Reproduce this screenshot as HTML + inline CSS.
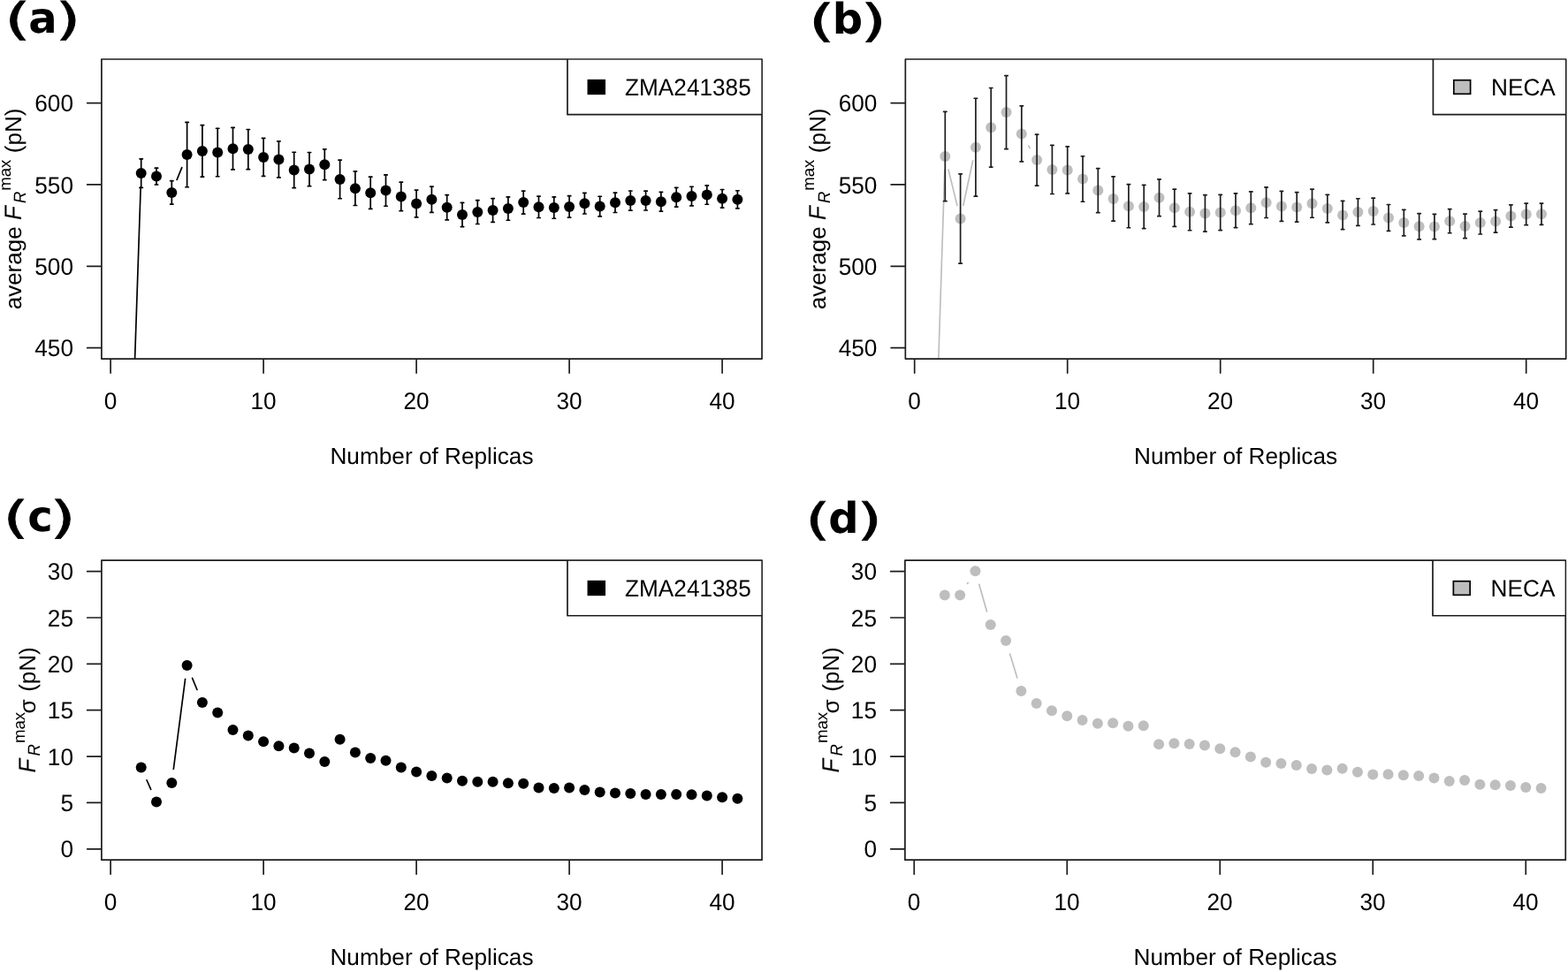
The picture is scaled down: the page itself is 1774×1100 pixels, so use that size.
<!DOCTYPE html>
<html lang="en">
<head>
<meta charset="utf-8">
<title>Convergence of average maximum rupture force with number of replicas</title>
<style>
html,body{margin:0;padding:0;background:#fff;}
body{width:1774px;height:1100px;overflow:hidden;}
svg{display:block;}
svg text{font-family:"Liberation Sans",sans-serif;fill:#000;font-kerning:none;text-rendering:geometricPrecision;}
svg text.pl{font-family:"DejaVu Sans",sans-serif;font-weight:bold;}
svg text.pr{font-family:"DejaVu Sans",sans-serif;font-weight:normal;stroke:#000;stroke-width:0.7px;vector-effect:non-scaling-stroke;stroke-linejoin:miter;}
</style>
</head>
<body>
<svg width="1774" height="1100" viewBox="0 0 1774 1100">
<rect width="1774" height="1100" fill="#fff"/>
<clipPath id="c00"><rect x="114.9" y="67" width="747.15" height="339.1"/></clipPath>
<g clip-path="url(#c00)">
<line x1="142.93" y1="692.41" x2="159.17" y2="211.69" stroke="#000" stroke-width="1.7" stroke-linecap="round"/>
<line x1="200.15" y1="203.44" x2="205.75" y2="189.56" stroke="#000" stroke-width="1.7" stroke-linecap="round"/>
<circle cx="159.7" cy="196.1" r="6.0" fill="#000"/>
<circle cx="177" cy="199.6" r="6.0" fill="#000"/>
<circle cx="194.3" cy="217.9" r="6.0" fill="#000"/>
<circle cx="211.6" cy="175.1" r="6.0" fill="#000"/>
<circle cx="228.9" cy="170.9" r="6.0" fill="#000"/>
<circle cx="246.2" cy="172.5" r="6.0" fill="#000"/>
<circle cx="263.5" cy="168.2" r="6.0" fill="#000"/>
<circle cx="280.8" cy="169.1" r="6.0" fill="#000"/>
<circle cx="298.1" cy="177.9" r="6.0" fill="#000"/>
<circle cx="315.4" cy="180.4" r="6.0" fill="#000"/>
<circle cx="332.7" cy="192.4" r="6.0" fill="#000"/>
<circle cx="350" cy="191.6" r="6.0" fill="#000"/>
<circle cx="367.3" cy="186.2" r="6.0" fill="#000"/>
<circle cx="384.6" cy="202.9" r="6.0" fill="#000"/>
<circle cx="401.9" cy="213.2" r="6.0" fill="#000"/>
<circle cx="419.2" cy="218.3" r="6.0" fill="#000"/>
<circle cx="436.5" cy="215.6" r="6.0" fill="#000"/>
<circle cx="453.8" cy="222.4" r="6.0" fill="#000"/>
<circle cx="471.1" cy="230.5" r="6.0" fill="#000"/>
<circle cx="488.4" cy="225.8" r="6.0" fill="#000"/>
<circle cx="505.7" cy="234.7" r="6.0" fill="#000"/>
<circle cx="523" cy="243" r="6.0" fill="#000"/>
<circle cx="540.3" cy="240.1" r="6.0" fill="#000"/>
<circle cx="557.6" cy="238" r="6.0" fill="#000"/>
<circle cx="574.9" cy="236.1" r="6.0" fill="#000"/>
<circle cx="592.2" cy="229.1" r="6.0" fill="#000"/>
<circle cx="609.5" cy="234.3" r="6.0" fill="#000"/>
<circle cx="626.8" cy="235.1" r="6.0" fill="#000"/>
<circle cx="644.1" cy="233.9" r="6.0" fill="#000"/>
<circle cx="661.4" cy="230.2" r="6.0" fill="#000"/>
<circle cx="678.7" cy="233.6" r="6.0" fill="#000"/>
<circle cx="696" cy="229.3" r="6.0" fill="#000"/>
<circle cx="713.3" cy="227.1" r="6.0" fill="#000"/>
<circle cx="730.6" cy="227.1" r="6.0" fill="#000"/>
<circle cx="747.9" cy="228.2" r="6.0" fill="#000"/>
<circle cx="765.2" cy="223.2" r="6.0" fill="#000"/>
<circle cx="782.5" cy="222.1" r="6.0" fill="#000"/>
<circle cx="799.8" cy="220.6" r="6.0" fill="#000"/>
<circle cx="817.1" cy="224.8" r="6.0" fill="#000"/>
<circle cx="834.4" cy="225.8" r="6.0" fill="#000"/>
<path d="M159.7 179.82V212.38M158 179.82H161.4M158 212.38H161.4" stroke="#000" stroke-width="1.7" fill="none" stroke-linecap="round"/>
<path d="M177 190.22V208.98M175.3 190.22H178.7M175.3 208.98H178.7" stroke="#000" stroke-width="1.7" fill="none" stroke-linecap="round"/>
<path d="M194.3 204.69V231.11M192.6 204.69H196M192.6 231.11H196" stroke="#000" stroke-width="1.7" fill="none" stroke-linecap="round"/>
<path d="M211.6 138.45V211.75M209.9 138.45H213.3M209.9 211.75H213.3" stroke="#000" stroke-width="1.7" fill="none" stroke-linecap="round"/>
<path d="M228.9 141.64V200.16M227.2 141.64H230.6M227.2 200.16H230.6" stroke="#000" stroke-width="1.7" fill="none" stroke-linecap="round"/>
<path d="M246.2 145.27V199.73M244.5 145.27H247.9M244.5 199.73H247.9" stroke="#000" stroke-width="1.7" fill="none" stroke-linecap="round"/>
<path d="M263.5 144.44V191.96M261.8 144.44H265.2M261.8 191.96H265.2" stroke="#000" stroke-width="1.7" fill="none" stroke-linecap="round"/>
<path d="M280.8 146.49V191.71M279.1 146.49H282.5M279.1 191.71H282.5" stroke="#000" stroke-width="1.7" fill="none" stroke-linecap="round"/>
<path d="M298.1 156.45V199.35M296.4 156.45H299.8M296.4 199.35H299.8" stroke="#000" stroke-width="1.7" fill="none" stroke-linecap="round"/>
<path d="M315.4 159.83V200.97M313.7 159.83H317.1M313.7 200.97H317.1" stroke="#000" stroke-width="1.7" fill="none" stroke-linecap="round"/>
<path d="M332.7 172.24V212.56M331 172.24H334.4M331 212.56H334.4" stroke="#000" stroke-width="1.7" fill="none" stroke-linecap="round"/>
<path d="M350 172.48V210.72M348.3 172.48H351.7M348.3 210.72H351.7" stroke="#000" stroke-width="1.7" fill="none" stroke-linecap="round"/>
<path d="M367.3 168.79V203.61M365.6 168.79H369M365.6 203.61H369" stroke="#000" stroke-width="1.7" fill="none" stroke-linecap="round"/>
<path d="M384.6 181.03V224.77M382.9 181.03H386.3M382.9 224.77H386.3" stroke="#000" stroke-width="1.7" fill="none" stroke-linecap="round"/>
<path d="M401.9 193.92V232.48M400.2 193.92H403.6M400.2 232.48H403.6" stroke="#000" stroke-width="1.7" fill="none" stroke-linecap="round"/>
<path d="M419.2 200.17V236.43M417.5 200.17H420.9M417.5 236.43H420.9" stroke="#000" stroke-width="1.7" fill="none" stroke-linecap="round"/>
<path d="M436.5 197.96V233.24M434.8 197.96H438.2M434.8 233.24H438.2" stroke="#000" stroke-width="1.7" fill="none" stroke-linecap="round"/>
<path d="M453.8 206.14V238.66M452.1 206.14H455.5M452.1 238.66H455.5" stroke="#000" stroke-width="1.7" fill="none" stroke-linecap="round"/>
<path d="M471.1 215.12V245.88M469.4 215.12H472.8M469.4 245.88H472.8" stroke="#000" stroke-width="1.7" fill="none" stroke-linecap="round"/>
<path d="M488.4 211.18V240.42M486.7 211.18H490.1M486.7 240.42H490.1" stroke="#000" stroke-width="1.7" fill="none" stroke-linecap="round"/>
<path d="M505.7 220.55V248.85M504 220.55H507.4M504 248.85H507.4" stroke="#000" stroke-width="1.7" fill="none" stroke-linecap="round"/>
<path d="M523 229.4V256.6M521.3 229.4H524.7M521.3 256.6H524.7" stroke="#000" stroke-width="1.7" fill="none" stroke-linecap="round"/>
<path d="M540.3 226.7V253.5M538.6 226.7H542M538.6 253.5H542" stroke="#000" stroke-width="1.7" fill="none" stroke-linecap="round"/>
<path d="M557.6 224.58V251.42M555.9 224.58H559.3M555.9 251.42H559.3" stroke="#000" stroke-width="1.7" fill="none" stroke-linecap="round"/>
<path d="M574.9 222.94V249.26M573.2 222.94H576.6M573.2 249.26H576.6" stroke="#000" stroke-width="1.7" fill="none" stroke-linecap="round"/>
<path d="M592.2 216.03V242.17M590.5 216.03H593.9M590.5 242.17H593.9" stroke="#000" stroke-width="1.7" fill="none" stroke-linecap="round"/>
<path d="M609.5 222.09V246.51M607.8 222.09H611.2M607.8 246.51H611.2" stroke="#000" stroke-width="1.7" fill="none" stroke-linecap="round"/>
<path d="M626.8 222.95V247.25M625.1 222.95H628.5M625.1 247.25H628.5" stroke="#000" stroke-width="1.7" fill="none" stroke-linecap="round"/>
<path d="M644.1 221.69V246.11M642.4 221.69H645.8M642.4 246.11H645.8" stroke="#000" stroke-width="1.7" fill="none" stroke-linecap="round"/>
<path d="M661.4 218.42V241.98M659.7 218.42H663.1M659.7 241.98H663.1" stroke="#000" stroke-width="1.7" fill="none" stroke-linecap="round"/>
<path d="M678.7 222.26V244.94M677 222.26H680.4M677 244.94H680.4" stroke="#000" stroke-width="1.7" fill="none" stroke-linecap="round"/>
<path d="M696 218.12V240.48M694.3 218.12H697.7M694.3 240.48H697.7" stroke="#000" stroke-width="1.7" fill="none" stroke-linecap="round"/>
<path d="M713.3 216.02V238.18M711.6 216.02H715M711.6 238.18H715" stroke="#000" stroke-width="1.7" fill="none" stroke-linecap="round"/>
<path d="M730.6 216.2V238M728.9 216.2H732.3M728.9 238H732.3" stroke="#000" stroke-width="1.7" fill="none" stroke-linecap="round"/>
<path d="M747.9 217.3V239.1M746.2 217.3H749.6M746.2 239.1H749.6" stroke="#000" stroke-width="1.7" fill="none" stroke-linecap="round"/>
<path d="M765.2 212.3V234.1M763.5 212.3H766.9M763.5 234.1H766.9" stroke="#000" stroke-width="1.7" fill="none" stroke-linecap="round"/>
<path d="M782.5 211.24V232.96M780.8 211.24H784.2M780.8 232.96H784.2" stroke="#000" stroke-width="1.7" fill="none" stroke-linecap="round"/>
<path d="M799.8 209.96V231.24M798.1 209.96H801.5M798.1 231.24H801.5" stroke="#000" stroke-width="1.7" fill="none" stroke-linecap="round"/>
<path d="M817.1 214.48V235.12M815.4 214.48H818.8M815.4 235.12H818.8" stroke="#000" stroke-width="1.7" fill="none" stroke-linecap="round"/>
<path d="M834.4 215.75V235.85M832.7 215.75H836.1M832.7 235.85H836.1" stroke="#000" stroke-width="1.7" fill="none" stroke-linecap="round"/>
</g>
<rect x="114.9" y="67" width="747.15" height="339.1" fill="none" stroke="#1c1c1c" stroke-width="1.7" stroke-linejoin="round"/>
<line x1="125.1" y1="406.95" x2="125.1" y2="422.1" stroke="#1c1c1c" stroke-width="1.7" stroke-linecap="round"/>
<text transform="translate(124.95,462.9) scale(1.008,1.04)" font-size="26.0" text-anchor="middle">0</text>
<line x1="298.1" y1="406.95" x2="298.1" y2="422.1" stroke="#1c1c1c" stroke-width="1.7" stroke-linecap="round"/>
<text transform="translate(297.95,462.9) scale(1.008,1.04)" font-size="26.0" text-anchor="middle">10</text>
<line x1="471.1" y1="406.95" x2="471.1" y2="422.1" stroke="#1c1c1c" stroke-width="1.7" stroke-linecap="round"/>
<text transform="translate(470.95,462.9) scale(1.008,1.04)" font-size="26.0" text-anchor="middle">20</text>
<line x1="644.1" y1="406.95" x2="644.1" y2="422.1" stroke="#1c1c1c" stroke-width="1.7" stroke-linecap="round"/>
<text transform="translate(643.95,462.9) scale(1.008,1.04)" font-size="26.0" text-anchor="middle">30</text>
<line x1="817.1" y1="406.95" x2="817.1" y2="422.1" stroke="#1c1c1c" stroke-width="1.7" stroke-linecap="round"/>
<text transform="translate(816.95,462.9) scale(1.008,1.04)" font-size="26.0" text-anchor="middle">40</text>
<text transform="translate(488.47,525.3) scale(1.008,1.0)" font-size="26.0" text-anchor="middle">Number of Replicas</text>
<line x1="98.7" y1="393.65" x2="114.05" y2="393.65" stroke="#1c1c1c" stroke-width="1.7" stroke-linecap="round"/>
<text transform="translate(83,403.25) scale(1.008,1.04)" font-size="26.0" text-anchor="end">450</text>
<line x1="98.7" y1="301.3" x2="114.05" y2="301.3" stroke="#1c1c1c" stroke-width="1.7" stroke-linecap="round"/>
<text transform="translate(83,310.9) scale(1.008,1.04)" font-size="26.0" text-anchor="end">500</text>
<line x1="98.7" y1="208.95" x2="114.05" y2="208.95" stroke="#1c1c1c" stroke-width="1.7" stroke-linecap="round"/>
<text transform="translate(83,218.55) scale(1.008,1.04)" font-size="26.0" text-anchor="end">550</text>
<line x1="98.7" y1="116.6" x2="114.05" y2="116.6" stroke="#1c1c1c" stroke-width="1.7" stroke-linecap="round"/>
<text transform="translate(83,126.2) scale(1.008,1.04)" font-size="26.0" text-anchor="end">600</text>
<clipPath id="c10"><rect x="1024.35" y="67" width="747.35" height="339.1"/></clipPath>
<g clip-path="url(#c10)">
<line x1="1052.51" y1="692.41" x2="1068.79" y2="192.59" stroke="#bebebe" stroke-width="1.7" stroke-linecap="round"/>
<line x1="1073.02" y1="192.15" x2="1082.88" y2="232.35" stroke="#bebebe" stroke-width="1.7" stroke-linecap="round"/>
<line x1="1089.87" y1="232.25" x2="1100.63" y2="181.95" stroke="#bebebe" stroke-width="1.7" stroke-linecap="round"/>
<line x1="1163.65" y1="164.88" x2="1165.25" y2="167.62" stroke="#bebebe" stroke-width="1.7" stroke-linecap="round"/>
<circle cx="1069.3" cy="177" r="6.0" fill="#bebebe"/>
<circle cx="1086.6" cy="247.5" r="6.0" fill="#bebebe"/>
<circle cx="1103.9" cy="166.7" r="6.0" fill="#bebebe"/>
<circle cx="1121.2" cy="144.3" r="6.0" fill="#bebebe"/>
<circle cx="1138.5" cy="127.1" r="6.0" fill="#bebebe"/>
<circle cx="1155.8" cy="151.4" r="6.0" fill="#bebebe"/>
<circle cx="1173.1" cy="181.1" r="6.0" fill="#bebebe"/>
<circle cx="1190.4" cy="191.9" r="6.0" fill="#bebebe"/>
<circle cx="1207.7" cy="192.4" r="6.0" fill="#bebebe"/>
<circle cx="1225" cy="202.5" r="6.0" fill="#bebebe"/>
<circle cx="1242.3" cy="215.6" r="6.0" fill="#bebebe"/>
<circle cx="1259.6" cy="225" r="6.0" fill="#bebebe"/>
<circle cx="1276.9" cy="233.2" r="6.0" fill="#bebebe"/>
<circle cx="1294.2" cy="234" r="6.0" fill="#bebebe"/>
<circle cx="1311.5" cy="223.8" r="6.0" fill="#bebebe"/>
<circle cx="1328.8" cy="235.3" r="6.0" fill="#bebebe"/>
<circle cx="1346.1" cy="239.8" r="6.0" fill="#bebebe"/>
<circle cx="1363.4" cy="241.4" r="6.0" fill="#bebebe"/>
<circle cx="1380.7" cy="240.5" r="6.0" fill="#bebebe"/>
<circle cx="1398" cy="238.2" r="6.0" fill="#bebebe"/>
<circle cx="1415.3" cy="235.3" r="6.0" fill="#bebebe"/>
<circle cx="1432.6" cy="229.2" r="6.0" fill="#bebebe"/>
<circle cx="1449.9" cy="233.4" r="6.0" fill="#bebebe"/>
<circle cx="1467.2" cy="234.4" r="6.0" fill="#bebebe"/>
<circle cx="1484.5" cy="230.2" r="6.0" fill="#bebebe"/>
<circle cx="1501.8" cy="236.1" r="6.0" fill="#bebebe"/>
<circle cx="1519.1" cy="243.5" r="6.0" fill="#bebebe"/>
<circle cx="1536.4" cy="240.1" r="6.0" fill="#bebebe"/>
<circle cx="1553.7" cy="239.1" r="6.0" fill="#bebebe"/>
<circle cx="1571" cy="246.4" r="6.0" fill="#bebebe"/>
<circle cx="1588.3" cy="252.1" r="6.0" fill="#bebebe"/>
<circle cx="1605.6" cy="256.3" r="6.0" fill="#bebebe"/>
<circle cx="1622.9" cy="256.5" r="6.0" fill="#bebebe"/>
<circle cx="1640.2" cy="250.2" r="6.0" fill="#bebebe"/>
<circle cx="1657.5" cy="255.9" r="6.0" fill="#bebebe"/>
<circle cx="1674.8" cy="252.1" r="6.0" fill="#bebebe"/>
<circle cx="1692.1" cy="250.4" r="6.0" fill="#bebebe"/>
<circle cx="1709.4" cy="244.5" r="6.0" fill="#bebebe"/>
<circle cx="1726.7" cy="242.4" r="6.0" fill="#bebebe"/>
<circle cx="1744" cy="242.2" r="6.0" fill="#bebebe"/>
<path d="M1069.3 126.35V227.65M1067.6 126.35H1071M1067.6 227.65H1071" stroke="#1c1c1c" stroke-width="1.7" fill="none" stroke-linecap="round"/>
<path d="M1086.6 196.85V298.15M1084.9 196.85H1088.3M1084.9 298.15H1088.3" stroke="#1c1c1c" stroke-width="1.7" fill="none" stroke-linecap="round"/>
<path d="M1103.9 111.23V222.17M1102.2 111.23H1105.6M1102.2 222.17H1105.6" stroke="#1c1c1c" stroke-width="1.7" fill="none" stroke-linecap="round"/>
<path d="M1121.2 99.52V189.08M1119.5 99.52H1122.9M1119.5 189.08H1122.9" stroke="#1c1c1c" stroke-width="1.7" fill="none" stroke-linecap="round"/>
<path d="M1138.5 85.53V168.67M1136.8 85.53H1140.2M1136.8 168.67H1140.2" stroke="#1c1c1c" stroke-width="1.7" fill="none" stroke-linecap="round"/>
<path d="M1155.8 119.85V182.95M1154.1 119.85H1157.5M1154.1 182.95H1157.5" stroke="#1c1c1c" stroke-width="1.7" fill="none" stroke-linecap="round"/>
<path d="M1173.1 152.05V210.15M1171.4 152.05H1174.8M1171.4 210.15H1174.8" stroke="#1c1c1c" stroke-width="1.7" fill="none" stroke-linecap="round"/>
<path d="M1190.4 164.3V219.5M1188.7 164.3H1192.1M1188.7 219.5H1192.1" stroke="#1c1c1c" stroke-width="1.7" fill="none" stroke-linecap="round"/>
<path d="M1207.7 165.86V218.94M1206 165.86H1209.4M1206 218.94H1209.4" stroke="#1c1c1c" stroke-width="1.7" fill="none" stroke-linecap="round"/>
<path d="M1225 176.77V228.23M1223.3 176.77H1226.7M1223.3 228.23H1226.7" stroke="#1c1c1c" stroke-width="1.7" fill="none" stroke-linecap="round"/>
<path d="M1242.3 190.55V240.65M1240.6 190.55H1244M1240.6 240.65H1244" stroke="#1c1c1c" stroke-width="1.7" fill="none" stroke-linecap="round"/>
<path d="M1259.6 199.87V250.13M1257.9 199.87H1261.3M1257.9 250.13H1261.3" stroke="#1c1c1c" stroke-width="1.7" fill="none" stroke-linecap="round"/>
<path d="M1276.9 208.67V257.73M1275.2 208.67H1278.6M1275.2 257.73H1278.6" stroke="#1c1c1c" stroke-width="1.7" fill="none" stroke-linecap="round"/>
<path d="M1294.2 209.38V258.62M1292.5 209.38H1295.9M1292.5 258.62H1295.9" stroke="#1c1c1c" stroke-width="1.7" fill="none" stroke-linecap="round"/>
<path d="M1311.5 202.88V244.72M1309.8 202.88H1313.2M1309.8 244.72H1313.2" stroke="#1c1c1c" stroke-width="1.7" fill="none" stroke-linecap="round"/>
<path d="M1328.8 214.22V256.38M1327.1 214.22H1330.5M1327.1 256.38H1330.5" stroke="#1c1c1c" stroke-width="1.7" fill="none" stroke-linecap="round"/>
<path d="M1346.1 218.86V260.74M1344.4 218.86H1347.8M1344.4 260.74H1347.8" stroke="#1c1c1c" stroke-width="1.7" fill="none" stroke-linecap="round"/>
<path d="M1363.4 220.69V262.11M1361.7 220.69H1365.1M1361.7 262.11H1365.1" stroke="#1c1c1c" stroke-width="1.7" fill="none" stroke-linecap="round"/>
<path d="M1380.7 220.46V260.54M1379 220.46H1382.4M1379 260.54H1382.4" stroke="#1c1c1c" stroke-width="1.7" fill="none" stroke-linecap="round"/>
<path d="M1398 218.87V257.53M1396.3 218.87H1399.7M1396.3 257.53H1399.7" stroke="#1c1c1c" stroke-width="1.7" fill="none" stroke-linecap="round"/>
<path d="M1415.3 216.89V253.71M1413.6 216.89H1417M1413.6 253.71H1417" stroke="#1c1c1c" stroke-width="1.7" fill="none" stroke-linecap="round"/>
<path d="M1432.6 211.92V246.48M1430.9 211.92H1434.3M1430.9 246.48H1434.3" stroke="#1c1c1c" stroke-width="1.7" fill="none" stroke-linecap="round"/>
<path d="M1449.9 216.34V250.46M1448.2 216.34H1451.6M1448.2 250.46H1451.6" stroke="#1c1c1c" stroke-width="1.7" fill="none" stroke-linecap="round"/>
<path d="M1467.2 217.68V251.12M1465.5 217.68H1468.9M1465.5 251.12H1468.9" stroke="#1c1c1c" stroke-width="1.7" fill="none" stroke-linecap="round"/>
<path d="M1484.5 214.17V246.23M1482.8 214.17H1486.2M1482.8 246.23H1486.2" stroke="#1c1c1c" stroke-width="1.7" fill="none" stroke-linecap="round"/>
<path d="M1501.8 220.33V251.87M1500.1 220.33H1503.5M1500.1 251.87H1503.5" stroke="#1c1c1c" stroke-width="1.7" fill="none" stroke-linecap="round"/>
<path d="M1519.1 227.45V259.55M1517.4 227.45H1520.8M1517.4 259.55H1520.8" stroke="#1c1c1c" stroke-width="1.7" fill="none" stroke-linecap="round"/>
<path d="M1536.4 224.76V255.44M1534.7 224.76H1538.1M1534.7 255.44H1538.1" stroke="#1c1c1c" stroke-width="1.7" fill="none" stroke-linecap="round"/>
<path d="M1553.7 224.21V253.99M1552 224.21H1555.4M1552 253.99H1555.4" stroke="#1c1c1c" stroke-width="1.7" fill="none" stroke-linecap="round"/>
<path d="M1571 231.5V261.3M1569.3 231.5H1572.7M1569.3 261.3H1572.7" stroke="#1c1c1c" stroke-width="1.7" fill="none" stroke-linecap="round"/>
<path d="M1588.3 237.37V266.83M1586.6 237.37H1590M1586.6 266.83H1590" stroke="#1c1c1c" stroke-width="1.7" fill="none" stroke-linecap="round"/>
<path d="M1605.6 241.7V270.9M1603.9 241.7H1607.3M1603.9 270.9H1607.3" stroke="#1c1c1c" stroke-width="1.7" fill="none" stroke-linecap="round"/>
<path d="M1622.9 242.35V270.65M1621.2 242.35H1624.6M1621.2 270.65H1624.6" stroke="#1c1c1c" stroke-width="1.7" fill="none" stroke-linecap="round"/>
<path d="M1640.2 236.65V263.75M1638.5 236.65H1641.9M1638.5 263.75H1641.9" stroke="#1c1c1c" stroke-width="1.7" fill="none" stroke-linecap="round"/>
<path d="M1657.5 242.16V269.64M1655.8 242.16H1659.2M1655.8 269.64H1659.2" stroke="#1c1c1c" stroke-width="1.7" fill="none" stroke-linecap="round"/>
<path d="M1674.8 239.22V264.98M1673.1 239.22H1676.5M1673.1 264.98H1676.5" stroke="#1c1c1c" stroke-width="1.7" fill="none" stroke-linecap="round"/>
<path d="M1692.1 237.61V263.19M1690.4 237.61H1693.8M1690.4 263.19H1693.8" stroke="#1c1c1c" stroke-width="1.7" fill="none" stroke-linecap="round"/>
<path d="M1709.4 231.84V257.16M1707.7 231.84H1711.1M1707.7 257.16H1711.1" stroke="#1c1c1c" stroke-width="1.7" fill="none" stroke-linecap="round"/>
<path d="M1726.7 230.09V254.71M1725 230.09H1728.4M1725 254.71H1728.4" stroke="#1c1c1c" stroke-width="1.7" fill="none" stroke-linecap="round"/>
<path d="M1744 230.08V254.32M1742.3 230.08H1745.7M1742.3 254.32H1745.7" stroke="#1c1c1c" stroke-width="1.7" fill="none" stroke-linecap="round"/>
</g>
<rect x="1024.35" y="67" width="747.35" height="339.1" fill="none" stroke="#1c1c1c" stroke-width="1.7" stroke-linejoin="round"/>
<line x1="1034.7" y1="406.95" x2="1034.7" y2="422.1" stroke="#1c1c1c" stroke-width="1.7" stroke-linecap="round"/>
<text transform="translate(1034.55,462.9) scale(1.008,1.04)" font-size="26.0" text-anchor="middle">0</text>
<line x1="1207.7" y1="406.95" x2="1207.7" y2="422.1" stroke="#1c1c1c" stroke-width="1.7" stroke-linecap="round"/>
<text transform="translate(1207.55,462.9) scale(1.008,1.04)" font-size="26.0" text-anchor="middle">10</text>
<line x1="1380.7" y1="406.95" x2="1380.7" y2="422.1" stroke="#1c1c1c" stroke-width="1.7" stroke-linecap="round"/>
<text transform="translate(1380.55,462.9) scale(1.008,1.04)" font-size="26.0" text-anchor="middle">20</text>
<line x1="1553.7" y1="406.95" x2="1553.7" y2="422.1" stroke="#1c1c1c" stroke-width="1.7" stroke-linecap="round"/>
<text transform="translate(1553.55,462.9) scale(1.008,1.04)" font-size="26.0" text-anchor="middle">30</text>
<line x1="1726.7" y1="406.95" x2="1726.7" y2="422.1" stroke="#1c1c1c" stroke-width="1.7" stroke-linecap="round"/>
<text transform="translate(1726.55,462.9) scale(1.008,1.04)" font-size="26.0" text-anchor="middle">40</text>
<text transform="translate(1398.03,525.3) scale(1.008,1.0)" font-size="26.0" text-anchor="middle">Number of Replicas</text>
<line x1="1008.15" y1="393.65" x2="1023.5" y2="393.65" stroke="#1c1c1c" stroke-width="1.7" stroke-linecap="round"/>
<text transform="translate(992.45,403.25) scale(1.008,1.04)" font-size="26.0" text-anchor="end">450</text>
<line x1="1008.15" y1="301.3" x2="1023.5" y2="301.3" stroke="#1c1c1c" stroke-width="1.7" stroke-linecap="round"/>
<text transform="translate(992.45,310.9) scale(1.008,1.04)" font-size="26.0" text-anchor="end">500</text>
<line x1="1008.15" y1="208.95" x2="1023.5" y2="208.95" stroke="#1c1c1c" stroke-width="1.7" stroke-linecap="round"/>
<text transform="translate(992.45,218.55) scale(1.008,1.04)" font-size="26.0" text-anchor="end">550</text>
<line x1="1008.15" y1="116.6" x2="1023.5" y2="116.6" stroke="#1c1c1c" stroke-width="1.7" stroke-linecap="round"/>
<text transform="translate(992.45,126.2) scale(1.008,1.04)" font-size="26.0" text-anchor="end">600</text>
<clipPath id="c01"><rect x="114.9" y="634.05" width="747.15" height="339.15"/></clipPath>
<g clip-path="url(#c01)">
<line x1="166.01" y1="882.77" x2="170.69" y2="893.33" stroke="#000" stroke-width="1.7" stroke-linecap="round"/>
<line x1="196.31" y1="870.43" x2="209.59" y2="768.47" stroke="#000" stroke-width="1.7" stroke-linecap="round"/>
<line x1="217.55" y1="767.42" x2="222.95" y2="780.48" stroke="#000" stroke-width="1.7" stroke-linecap="round"/>
<circle cx="159.7" cy="868.5" r="6.0" fill="#000"/>
<circle cx="177" cy="907.6" r="6.0" fill="#000"/>
<circle cx="194.3" cy="885.9" r="6.0" fill="#000"/>
<circle cx="211.6" cy="753" r="6.0" fill="#000"/>
<circle cx="228.9" cy="794.9" r="6.0" fill="#000"/>
<circle cx="246.2" cy="806.4" r="6.0" fill="#000"/>
<circle cx="263.5" cy="826.1" r="6.0" fill="#000"/>
<circle cx="280.8" cy="832.6" r="6.0" fill="#000"/>
<circle cx="298.1" cy="839.2" r="6.0" fill="#000"/>
<circle cx="315.4" cy="844.2" r="6.0" fill="#000"/>
<circle cx="332.7" cy="846.5" r="6.0" fill="#000"/>
<circle cx="350" cy="852.4" r="6.0" fill="#000"/>
<circle cx="367.3" cy="862.1" r="6.0" fill="#000"/>
<circle cx="384.6" cy="836.8" r="6.0" fill="#000"/>
<circle cx="401.9" cy="851.5" r="6.0" fill="#000"/>
<circle cx="419.2" cy="858" r="6.0" fill="#000"/>
<circle cx="436.5" cy="860.8" r="6.0" fill="#000"/>
<circle cx="453.8" cy="868.6" r="6.0" fill="#000"/>
<circle cx="471.1" cy="873.6" r="6.0" fill="#000"/>
<circle cx="488.4" cy="877.9" r="6.0" fill="#000"/>
<circle cx="505.7" cy="880.6" r="6.0" fill="#000"/>
<circle cx="523" cy="883.7" r="6.0" fill="#000"/>
<circle cx="540.3" cy="884.8" r="6.0" fill="#000"/>
<circle cx="557.6" cy="884.7" r="6.0" fill="#000"/>
<circle cx="574.9" cy="886.2" r="6.0" fill="#000"/>
<circle cx="592.2" cy="886.7" r="6.0" fill="#000"/>
<circle cx="609.5" cy="891.6" r="6.0" fill="#000"/>
<circle cx="626.8" cy="891.9" r="6.0" fill="#000"/>
<circle cx="644.1" cy="891.6" r="6.0" fill="#000"/>
<circle cx="661.4" cy="894" r="6.0" fill="#000"/>
<circle cx="678.7" cy="896.5" r="6.0" fill="#000"/>
<circle cx="696" cy="897.4" r="6.0" fill="#000"/>
<circle cx="713.3" cy="898" r="6.0" fill="#000"/>
<circle cx="730.6" cy="899" r="6.0" fill="#000"/>
<circle cx="747.9" cy="899" r="6.0" fill="#000"/>
<circle cx="765.2" cy="899" r="6.0" fill="#000"/>
<circle cx="782.5" cy="899.2" r="6.0" fill="#000"/>
<circle cx="799.8" cy="900.5" r="6.0" fill="#000"/>
<circle cx="817.1" cy="902.3" r="6.0" fill="#000"/>
<circle cx="834.4" cy="903.8" r="6.0" fill="#000"/>
</g>
<rect x="114.9" y="634.05" width="747.15" height="339.15" fill="none" stroke="#1c1c1c" stroke-width="1.7" stroke-linejoin="round"/>
<line x1="125.1" y1="974.05" x2="125.1" y2="989.2" stroke="#1c1c1c" stroke-width="1.7" stroke-linecap="round"/>
<text transform="translate(124.95,1030) scale(1.008,1.04)" font-size="26.0" text-anchor="middle">0</text>
<line x1="298.1" y1="974.05" x2="298.1" y2="989.2" stroke="#1c1c1c" stroke-width="1.7" stroke-linecap="round"/>
<text transform="translate(297.95,1030) scale(1.008,1.04)" font-size="26.0" text-anchor="middle">10</text>
<line x1="471.1" y1="974.05" x2="471.1" y2="989.2" stroke="#1c1c1c" stroke-width="1.7" stroke-linecap="round"/>
<text transform="translate(470.95,1030) scale(1.008,1.04)" font-size="26.0" text-anchor="middle">20</text>
<line x1="644.1" y1="974.05" x2="644.1" y2="989.2" stroke="#1c1c1c" stroke-width="1.7" stroke-linecap="round"/>
<text transform="translate(643.95,1030) scale(1.008,1.04)" font-size="26.0" text-anchor="middle">30</text>
<line x1="817.1" y1="974.05" x2="817.1" y2="989.2" stroke="#1c1c1c" stroke-width="1.7" stroke-linecap="round"/>
<text transform="translate(816.95,1030) scale(1.008,1.04)" font-size="26.0" text-anchor="middle">40</text>
<text transform="translate(488.47,1092.4) scale(1.008,1.0)" font-size="26.0" text-anchor="middle">Number of Replicas</text>
<line x1="98.7" y1="960.8" x2="114.05" y2="960.8" stroke="#1c1c1c" stroke-width="1.7" stroke-linecap="round"/>
<text transform="translate(83,970.4) scale(1.008,1.04)" font-size="26.0" text-anchor="end">0</text>
<line x1="98.7" y1="908.44" x2="114.05" y2="908.44" stroke="#1c1c1c" stroke-width="1.7" stroke-linecap="round"/>
<text transform="translate(83,918.04) scale(1.008,1.04)" font-size="26.0" text-anchor="end">5</text>
<line x1="98.7" y1="856.08" x2="114.05" y2="856.08" stroke="#1c1c1c" stroke-width="1.7" stroke-linecap="round"/>
<text transform="translate(83,865.68) scale(1.008,1.04)" font-size="26.0" text-anchor="end">10</text>
<line x1="98.7" y1="803.72" x2="114.05" y2="803.72" stroke="#1c1c1c" stroke-width="1.7" stroke-linecap="round"/>
<text transform="translate(83,813.32) scale(1.008,1.04)" font-size="26.0" text-anchor="end">15</text>
<line x1="98.7" y1="751.36" x2="114.05" y2="751.36" stroke="#1c1c1c" stroke-width="1.7" stroke-linecap="round"/>
<text transform="translate(83,760.96) scale(1.008,1.04)" font-size="26.0" text-anchor="end">20</text>
<line x1="98.7" y1="699" x2="114.05" y2="699" stroke="#1c1c1c" stroke-width="1.7" stroke-linecap="round"/>
<text transform="translate(83,708.6) scale(1.008,1.04)" font-size="26.0" text-anchor="end">25</text>
<line x1="98.7" y1="646.64" x2="114.05" y2="646.64" stroke="#1c1c1c" stroke-width="1.7" stroke-linecap="round"/>
<text transform="translate(83,656.24) scale(1.008,1.04)" font-size="26.0" text-anchor="end">30</text>
<clipPath id="c11"><rect x="1023.9" y="634.05" width="747.35" height="339.15"/></clipPath>
<g clip-path="url(#c11)">
<line x1="1094.5" y1="660.42" x2="1095.1" y2="659.48" stroke="#bebebe" stroke-width="1.7" stroke-linecap="round"/>
<line x1="1107.73" y1="661.3" x2="1116.47" y2="691.9" stroke="#bebebe" stroke-width="1.7" stroke-linecap="round"/>
<line x1="1142.6" y1="740.02" x2="1150.8" y2="766.98" stroke="#bebebe" stroke-width="1.7" stroke-linecap="round"/>
<circle cx="1068.85" cy="673.6" r="6.0" fill="#bebebe"/>
<circle cx="1086.15" cy="673.6" r="6.0" fill="#bebebe"/>
<circle cx="1103.45" cy="646.3" r="6.0" fill="#bebebe"/>
<circle cx="1120.75" cy="706.9" r="6.0" fill="#bebebe"/>
<circle cx="1138.05" cy="725.1" r="6.0" fill="#bebebe"/>
<circle cx="1155.35" cy="781.9" r="6.0" fill="#bebebe"/>
<circle cx="1172.65" cy="796.1" r="6.0" fill="#bebebe"/>
<circle cx="1189.95" cy="804.3" r="6.0" fill="#bebebe"/>
<circle cx="1207.25" cy="810.3" r="6.0" fill="#bebebe"/>
<circle cx="1224.55" cy="814.9" r="6.0" fill="#bebebe"/>
<circle cx="1241.85" cy="818.8" r="6.0" fill="#bebebe"/>
<circle cx="1259.15" cy="818.3" r="6.0" fill="#bebebe"/>
<circle cx="1276.45" cy="821.7" r="6.0" fill="#bebebe"/>
<circle cx="1293.75" cy="821.2" r="6.0" fill="#bebebe"/>
<circle cx="1311.05" cy="842.2" r="6.0" fill="#bebebe"/>
<circle cx="1328.35" cy="841.3" r="6.0" fill="#bebebe"/>
<circle cx="1345.65" cy="842.1" r="6.0" fill="#bebebe"/>
<circle cx="1362.95" cy="843.4" r="6.0" fill="#bebebe"/>
<circle cx="1380.25" cy="847.2" r="6.0" fill="#bebebe"/>
<circle cx="1397.55" cy="851.2" r="6.0" fill="#bebebe"/>
<circle cx="1414.85" cy="856.4" r="6.0" fill="#bebebe"/>
<circle cx="1432.15" cy="862.8" r="6.0" fill="#bebebe"/>
<circle cx="1449.45" cy="864.1" r="6.0" fill="#bebebe"/>
<circle cx="1466.75" cy="866" r="6.0" fill="#bebebe"/>
<circle cx="1484.05" cy="869.9" r="6.0" fill="#bebebe"/>
<circle cx="1501.35" cy="871.4" r="6.0" fill="#bebebe"/>
<circle cx="1518.65" cy="869.8" r="6.0" fill="#bebebe"/>
<circle cx="1535.95" cy="873.8" r="6.0" fill="#bebebe"/>
<circle cx="1553.25" cy="876.4" r="6.0" fill="#bebebe"/>
<circle cx="1570.55" cy="876.3" r="6.0" fill="#bebebe"/>
<circle cx="1587.85" cy="877.3" r="6.0" fill="#bebebe"/>
<circle cx="1605.15" cy="878" r="6.0" fill="#bebebe"/>
<circle cx="1622.45" cy="880.6" r="6.0" fill="#bebebe"/>
<circle cx="1639.75" cy="884" r="6.0" fill="#bebebe"/>
<circle cx="1657.05" cy="882.9" r="6.0" fill="#bebebe"/>
<circle cx="1674.35" cy="887.8" r="6.0" fill="#bebebe"/>
<circle cx="1691.65" cy="888.3" r="6.0" fill="#bebebe"/>
<circle cx="1708.95" cy="889" r="6.0" fill="#bebebe"/>
<circle cx="1726.25" cy="891" r="6.0" fill="#bebebe"/>
<circle cx="1743.55" cy="892.1" r="6.0" fill="#bebebe"/>
</g>
<rect x="1023.9" y="634.05" width="747.35" height="339.15" fill="none" stroke="#1c1c1c" stroke-width="1.7" stroke-linejoin="round"/>
<line x1="1034.25" y1="974.05" x2="1034.25" y2="989.2" stroke="#1c1c1c" stroke-width="1.7" stroke-linecap="round"/>
<text transform="translate(1034.1,1030) scale(1.008,1.04)" font-size="26.0" text-anchor="middle">0</text>
<line x1="1207.25" y1="974.05" x2="1207.25" y2="989.2" stroke="#1c1c1c" stroke-width="1.7" stroke-linecap="round"/>
<text transform="translate(1207.1,1030) scale(1.008,1.04)" font-size="26.0" text-anchor="middle">10</text>
<line x1="1380.25" y1="974.05" x2="1380.25" y2="989.2" stroke="#1c1c1c" stroke-width="1.7" stroke-linecap="round"/>
<text transform="translate(1380.1,1030) scale(1.008,1.04)" font-size="26.0" text-anchor="middle">20</text>
<line x1="1553.25" y1="974.05" x2="1553.25" y2="989.2" stroke="#1c1c1c" stroke-width="1.7" stroke-linecap="round"/>
<text transform="translate(1553.1,1030) scale(1.008,1.04)" font-size="26.0" text-anchor="middle">30</text>
<line x1="1726.25" y1="974.05" x2="1726.25" y2="989.2" stroke="#1c1c1c" stroke-width="1.7" stroke-linecap="round"/>
<text transform="translate(1726.1,1030) scale(1.008,1.04)" font-size="26.0" text-anchor="middle">40</text>
<text transform="translate(1397.57,1092.4) scale(1.008,1.0)" font-size="26.0" text-anchor="middle">Number of Replicas</text>
<line x1="1007.7" y1="960.8" x2="1023.05" y2="960.8" stroke="#1c1c1c" stroke-width="1.7" stroke-linecap="round"/>
<text transform="translate(992,970.4) scale(1.008,1.04)" font-size="26.0" text-anchor="end">0</text>
<line x1="1007.7" y1="908.44" x2="1023.05" y2="908.44" stroke="#1c1c1c" stroke-width="1.7" stroke-linecap="round"/>
<text transform="translate(992,918.04) scale(1.008,1.04)" font-size="26.0" text-anchor="end">5</text>
<line x1="1007.7" y1="856.08" x2="1023.05" y2="856.08" stroke="#1c1c1c" stroke-width="1.7" stroke-linecap="round"/>
<text transform="translate(992,865.68) scale(1.008,1.04)" font-size="26.0" text-anchor="end">10</text>
<line x1="1007.7" y1="803.72" x2="1023.05" y2="803.72" stroke="#1c1c1c" stroke-width="1.7" stroke-linecap="round"/>
<text transform="translate(992,813.32) scale(1.008,1.04)" font-size="26.0" text-anchor="end">15</text>
<line x1="1007.7" y1="751.36" x2="1023.05" y2="751.36" stroke="#1c1c1c" stroke-width="1.7" stroke-linecap="round"/>
<text transform="translate(992,760.96) scale(1.008,1.04)" font-size="26.0" text-anchor="end">20</text>
<line x1="1007.7" y1="699" x2="1023.05" y2="699" stroke="#1c1c1c" stroke-width="1.7" stroke-linecap="round"/>
<text transform="translate(992,708.6) scale(1.008,1.04)" font-size="26.0" text-anchor="end">25</text>
<line x1="1007.7" y1="646.64" x2="1023.05" y2="646.64" stroke="#1c1c1c" stroke-width="1.7" stroke-linecap="round"/>
<text transform="translate(992,656.24) scale(1.008,1.04)" font-size="26.0" text-anchor="end">30</text>
<rect x="642" y="67.85" width="219.2" height="61.85" fill="#fff"/>
<path d="M642 67V129.7H862.05" fill="none" stroke="#1c1c1c" stroke-width="1.7" stroke-linejoin="round"/>
<rect x="665.4" y="90.7" width="18.8" height="15.6" fill="#000" stroke="#000" stroke-width="1.7"/>
<text transform="translate(707,108.1) scale(1.008,1.035)" font-size="26.0" text-anchor="start">ZMA241385</text>
<rect x="1621.4" y="67.85" width="149.45" height="61.85" fill="#fff"/>
<path d="M1621.4 67V129.7H1771.7" fill="none" stroke="#1c1c1c" stroke-width="1.7" stroke-linejoin="round"/>
<rect x="1644.8" y="90.7" width="18.8" height="15.6" fill="#bebebe" stroke="#000" stroke-width="1.7"/>
<text transform="translate(1687,108.1) scale(1.008,1.035)" font-size="26.0" text-anchor="start">NECA</text>
<rect x="642" y="634.9" width="219.2" height="61.85" fill="#fff"/>
<path d="M642 634.05V696.75H862.05" fill="none" stroke="#1c1c1c" stroke-width="1.7" stroke-linejoin="round"/>
<rect x="665.4" y="657.75" width="18.8" height="15.6" fill="#000" stroke="#000" stroke-width="1.7"/>
<text transform="translate(707,675.15) scale(1.008,1.035)" font-size="26.0" text-anchor="start">ZMA241385</text>
<rect x="1620.95" y="634.9" width="149.45" height="61.85" fill="#fff"/>
<path d="M1620.95 634.05V696.75H1771.25" fill="none" stroke="#1c1c1c" stroke-width="1.7" stroke-linejoin="round"/>
<rect x="1644.35" y="657.75" width="18.8" height="15.6" fill="#bebebe" stroke="#000" stroke-width="1.7"/>
<text transform="translate(1686.55,675.15) scale(1.008,1.035)" font-size="26.0" text-anchor="start">NECA</text>
<text class="pr" font-size="50.0" transform="matrix(1.5260 0 0 1.0038 5.04 39.28)">(</text>
<text class="pl" font-size="48.0" transform="matrix(1.0 0 0 1.0 32.26 37.2)">a</text>
<text class="pr" font-size="50.0" transform="matrix(1.4635 0 0 1.0038 62.84 39.28)">)</text>
<text class="pr" font-size="50.0" transform="matrix(1.5349 0 0 1.0105 914.8 40.74)">(</text>
<text class="pl" font-size="48.0" transform="matrix(1.0 0 0 1.0 941.78 38.2)">b</text>
<text class="pr" font-size="50.0" transform="matrix(1.4992 0 0 1.0105 973.8 40.74)">)</text>
<text class="pr" font-size="50.0" transform="matrix(1.5081 0 0 1.0083 3.32 602.65)">(</text>
<text class="pl" font-size="48.0" transform="matrix(1.0 0 0 1.0 31.2 600.5)">c</text>
<text class="pr" font-size="50.0" transform="matrix(1.4992 0 0 1.0083 56.5 602.65)">)</text>
<text class="pr" font-size="50.0" transform="matrix(1.4635 0 0 0.9971 910.91 604.83)">(</text>
<text class="pl" font-size="48.0" transform="matrix(1.0 0 0 1.0 937.36 602.7)">d</text>
<text class="pr" font-size="50.0" transform="matrix(1.4635 0 0 0.9971 969.54 604.83)">)</text>
<text transform="translate(24.3,350.3) rotate(-90) scale(1,1.0)" font-size="26.0">average</text>
<text transform="translate(24.3,249) rotate(-90) scale(1,1.04)" font-size="26.0" font-style="italic">F</text>
<text transform="translate(28.8,230) rotate(-90) scale(1,1.04)" font-size="18.6" font-style="italic">R</text>
<text transform="translate(11.5,215.8) rotate(-90) scale(1,1.0)" font-size="18.6">max</text>
<text transform="translate(24.3,173.2) rotate(-90) scale(1,1.0)" font-size="26.0">(pN)</text>
<text transform="translate(40.3,874.5) rotate(-90) scale(1,1.04)" font-size="26.0" font-style="italic">F</text>
<text transform="translate(44.6,855.5) rotate(-90) scale(1,1.04)" font-size="18.6" font-style="italic">R</text>
<text transform="translate(27.6,841) rotate(-90) scale(1,1.0)" font-size="18.6">max</text>
<text transform="translate(40.3,807.5) rotate(-90) scale(1,1.0)" font-size="26.0">σ</text>
<text transform="translate(40.3,782.8) rotate(-90) scale(1,1.0)" font-size="26.0">(pN)</text>
<text transform="translate(934.1,350.3) rotate(-90) scale(1,1.0)" font-size="26.0">average</text>
<text transform="translate(934.1,249) rotate(-90) scale(1,1.04)" font-size="26.0" font-style="italic">F</text>
<text transform="translate(938.6,230) rotate(-90) scale(1,1.04)" font-size="18.6" font-style="italic">R</text>
<text transform="translate(921.3,215.8) rotate(-90) scale(1,1.0)" font-size="18.6">max</text>
<text transform="translate(934.1,173.2) rotate(-90) scale(1,1.0)" font-size="26.0">(pN)</text>
<text transform="translate(949.1,874.5) rotate(-90) scale(1,1.04)" font-size="26.0" font-style="italic">F</text>
<text transform="translate(953.4,855.5) rotate(-90) scale(1,1.04)" font-size="18.6" font-style="italic">R</text>
<text transform="translate(936.4,841) rotate(-90) scale(1,1.0)" font-size="18.6">max</text>
<text transform="translate(949.1,807.5) rotate(-90) scale(1,1.0)" font-size="26.0">σ</text>
<text transform="translate(949.1,782.8) rotate(-90) scale(1,1.0)" font-size="26.0">(pN)</text>
</svg>
</body>
</html>
